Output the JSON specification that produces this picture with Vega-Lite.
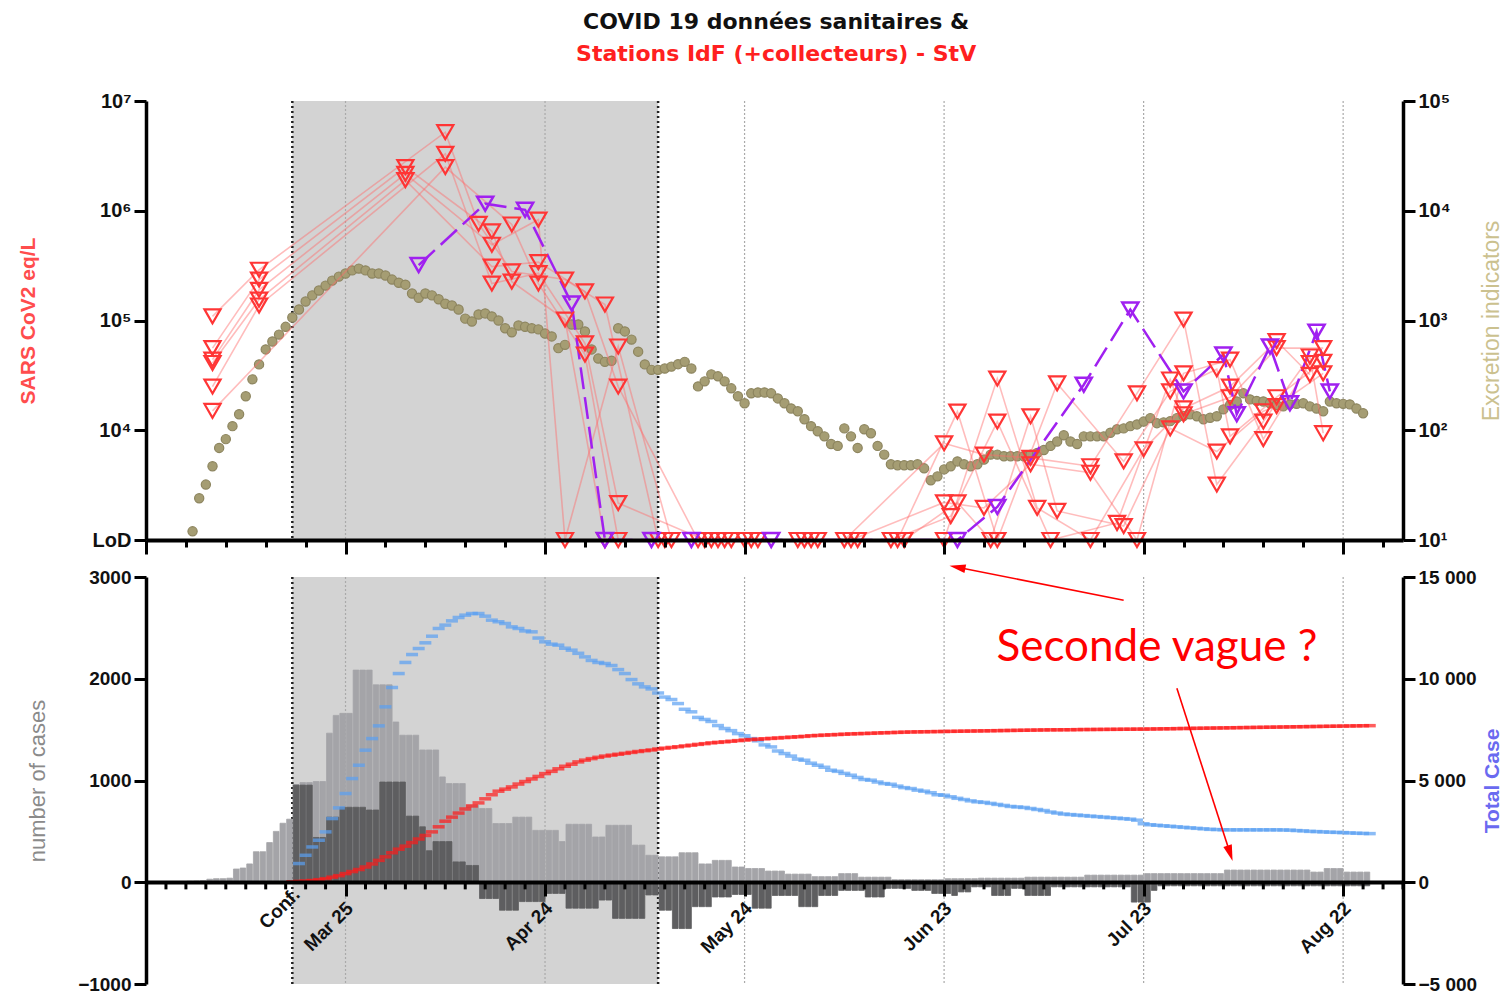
{
"$schema":"https://vega.github.io/schema/vega-lite/v6.json",
"background":"white",
"padding":{"left":17,"top":11,"right":2,"bottom":0},
"title":{"text":"COVID 19 données sanitaires &","subtitle":"Stations IdF (+collecteurs) - StV","font":"DejaVu Sans","fontSize":22,"fontWeight":"bold","color":"#111111","subtitleFont":"DejaVu Sans","subtitleFontSize":22,"subtitleFontWeight":"bold","subtitleColor":"#ff2020","subtitlePadding":10,"anchor":"middle","offset":25,"dx":16},
"datasets":{
"period":[{"start":"2020/03/17","end":"2020/05/11"}],
"grid":[{"date":"2020/03/25"},{"date":"2020/04/24"},{"date":"2020/05/24"},{"date":"2020/06/23"},{"date":"2020/07/23"},{"date":"2020/08/22"}],
"conf":[{"date":"2020/03/17"},{"date":"2020/05/11"}],
"minor":[{"date":"2020/02/27"},{"date":"2020/03/01"},{"date":"2020/03/04"},{"date":"2020/03/07"},{"date":"2020/03/10"},{"date":"2020/03/13"},{"date":"2020/03/16"},{"date":"2020/03/19"},{"date":"2020/03/22"},{"date":"2020/03/28"},{"date":"2020/03/31"},{"date":"2020/04/03"},{"date":"2020/04/06"},{"date":"2020/04/09"},{"date":"2020/04/12"},{"date":"2020/04/15"},{"date":"2020/04/18"},{"date":"2020/04/21"},{"date":"2020/04/27"},{"date":"2020/04/30"},{"date":"2020/05/03"},{"date":"2020/05/06"},{"date":"2020/05/09"},{"date":"2020/05/12"},{"date":"2020/05/15"},{"date":"2020/05/18"},{"date":"2020/05/21"},{"date":"2020/05/27"},{"date":"2020/05/30"},{"date":"2020/06/02"},{"date":"2020/06/05"},{"date":"2020/06/08"},{"date":"2020/06/11"},{"date":"2020/06/14"},{"date":"2020/06/17"},{"date":"2020/06/20"},{"date":"2020/06/26"},{"date":"2020/06/29"},{"date":"2020/07/02"},{"date":"2020/07/05"},{"date":"2020/07/08"},{"date":"2020/07/11"},{"date":"2020/07/14"},{"date":"2020/07/17"},{"date":"2020/07/20"},{"date":"2020/07/26"},{"date":"2020/07/29"},{"date":"2020/08/01"},{"date":"2020/08/04"},{"date":"2020/08/07"},{"date":"2020/08/10"},{"date":"2020/08/13"},{"date":"2020/08/16"},{"date":"2020/08/19"},{"date":"2020/08/25"},{"date":"2020/08/28"},{"date":"2020/08/31"}],
"exc":[
{"date":"2020/03/02","e":12},{"date":"2020/03/03","e":24},{"date":"2020/03/04","e":32},{"date":"2020/03/05","e":47},{"date":"2020/03/06","e":69},{"date":"2020/03/07","e":83},{"date":"2020/03/08","e":109},{"date":"2020/03/09","e":140},{"date":"2020/03/10","e":204},{"date":"2020/03/11","e":291},{"date":"2020/03/12","e":398},{"date":"2020/03/13","e":545},{"date":"2020/03/14","e":644},{"date":"2020/03/15","e":744},{"date":"2020/03/16","e":876},{"date":"2020/03/17","e":1065},{"date":"2020/03/18","e":1260},{"date":"2020/03/19","e":1489},{"date":"2020/03/20","e":1694},{"date":"2020/03/21","e":1875},{"date":"2020/03/22","e":2080},{"date":"2020/03/23","e":2310},{"date":"2020/03/24","e":2512},{"date":"2020/03/25","e":2680},{"date":"2020/03/26","e":2860},{"date":"2020/03/27","e":2970},{"date":"2020/03/28","e":2860},{"date":"2020/03/29","e":2680},{"date":"2020/03/30","e":2680},{"date":"2020/03/31","e":2570},
{"date":"2020/04/01","e":2360},{"date":"2020/04/02","e":2210},{"date":"2020/04/03","e":2120},{"date":"2020/04/04","e":1760},{"date":"2020/04/05","e":1610},{"date":"2020/04/06","e":1760},{"date":"2020/04/07","e":1694},{"date":"2020/04/08","e":1560},{"date":"2020/04/09","e":1420},{"date":"2020/04/10","e":1370},{"date":"2020/04/11","e":1260},{"date":"2020/04/12","e":1040},{"date":"2020/04/13","e":980},{"date":"2020/04/14","e":1135},{"date":"2020/04/15","e":1160},{"date":"2020/04/16","e":1090},{"date":"2020/04/17","e":1000},{"date":"2020/04/18","e":850},{"date":"2020/04/19","e":780},{"date":"2020/04/20","e":900},{"date":"2020/04/21","e":876},{"date":"2020/04/22","e":850},{"date":"2020/04/23","e":830},{"date":"2020/04/24","e":760},{"date":"2020/04/25","e":716},{"date":"2020/04/26","e":560},{"date":"2020/04/27","e":600},{"date":"2020/04/28","e":920},{"date":"2020/04/29","e":920},{"date":"2020/04/30","e":795},
{"date":"2020/05/01","e":545},{"date":"2020/05/02","e":450},{"date":"2020/05/03","e":420},{"date":"2020/05/04","e":430},{"date":"2020/05/05","e":850},{"date":"2020/05/06","e":795},{"date":"2020/05/07","e":670},{"date":"2020/05/08","e":520},{"date":"2020/05/09","e":398},{"date":"2020/05/10","e":355},{"date":"2020/05/11","e":355},{"date":"2020/05/12","e":365},{"date":"2020/05/13","e":380},{"date":"2020/05/14","e":400},{"date":"2020/05/15","e":420},{"date":"2020/05/16","e":365},{"date":"2020/05/17","e":251},{"date":"2020/05/18","e":279},{"date":"2020/05/19","e":323},{"date":"2020/05/20","e":310},{"date":"2020/05/21","e":279},{"date":"2020/05/22","e":241},{"date":"2020/05/23","e":204},{"date":"2020/05/24","e":176},{"date":"2020/05/25","e":217},{"date":"2020/05/26","e":221},{"date":"2020/05/27","e":221},{"date":"2020/05/28","e":217},{"date":"2020/05/29","e":195},{"date":"2020/05/30","e":176},{"date":"2020/05/31","e":158},
{"date":"2020/06/01","e":149},{"date":"2020/06/02","e":126},{"date":"2020/06/03","e":109},{"date":"2020/06/04","e":98},{"date":"2020/06/05","e":88},{"date":"2020/06/06","e":75},{"date":"2020/06/07","e":72},{"date":"2020/06/08","e":104},{"date":"2020/06/09","e":88},{"date":"2020/06/10","e":69},{"date":"2020/06/11","e":102},{"date":"2020/06/12","e":94},{"date":"2020/06/13","e":72},{"date":"2020/06/14","e":60},{"date":"2020/06/15","e":49},{"date":"2020/06/16","e":48},{"date":"2020/06/17","e":48},{"date":"2020/06/18","e":48},{"date":"2020/06/19","e":49},{"date":"2020/06/20","e":45},{"date":"2020/06/21","e":35},{"date":"2020/06/22","e":38},{"date":"2020/06/23","e":44},{"date":"2020/06/24","e":47},{"date":"2020/06/25","e":52},{"date":"2020/06/26","e":49},{"date":"2020/06/27","e":47},{"date":"2020/06/28","e":49},{"date":"2020/06/29","e":54},{"date":"2020/06/30","e":60},
{"date":"2020/07/01","e":60},{"date":"2020/07/02","e":58},{"date":"2020/07/03","e":58},{"date":"2020/07/04","e":58},{"date":"2020/07/05","e":58},{"date":"2020/07/06","e":60},{"date":"2020/07/07","e":62},{"date":"2020/07/08","e":66},{"date":"2020/07/09","e":72},{"date":"2020/07/10","e":79},{"date":"2020/07/11","e":90},{"date":"2020/07/12","e":79},{"date":"2020/07/13","e":75},{"date":"2020/07/14","e":88},{"date":"2020/07/15","e":88},{"date":"2020/07/16","e":88},{"date":"2020/07/17","e":88},{"date":"2020/07/18","e":95},{"date":"2020/07/19","e":102},{"date":"2020/07/20","e":104},{"date":"2020/07/21","e":109},{"date":"2020/07/22","e":113},{"date":"2020/07/23","e":120},{"date":"2020/07/24","e":129},{"date":"2020/07/25","e":116},{"date":"2020/07/26","e":118},{"date":"2020/07/27","e":121},{"date":"2020/07/28","e":129},{"date":"2020/07/29","e":135},{"date":"2020/07/30","e":140},{"date":"2020/07/31","e":134},
{"date":"2020/08/01","e":126},{"date":"2020/08/02","e":130},{"date":"2020/08/03","e":134},{"date":"2020/08/04","e":155},{"date":"2020/08/05","e":170},{"date":"2020/08/06","e":183},{"date":"2020/08/07","e":217},{"date":"2020/08/08","e":191},{"date":"2020/08/09","e":185},{"date":"2020/08/10","e":183},{"date":"2020/08/11","e":176},{"date":"2020/08/12","e":170},{"date":"2020/08/13","e":165},{"date":"2020/08/14","e":172},{"date":"2020/08/15","e":174},{"date":"2020/08/16","e":176},{"date":"2020/08/17","e":165},{"date":"2020/08/18","e":158},{"date":"2020/08/19","e":149},{"date":"2020/08/20","e":183},{"date":"2020/08/21","e":176},{"date":"2020/08/22","e":174},{"date":"2020/08/23","e":172},{"date":"2020/08/24","e":158},{"date":"2020/08/25","e":143}
],
"sars":[
{"date":"2020/03/05","v":109000,"s":"S1"},{"date":"2020/03/05","v":56000,"s":"S2"},{"date":"2020/03/05","v":44000,"s":"S3"},{"date":"2020/03/05","v":41000,"s":"S4"},{"date":"2020/03/05","v":25000,"s":"S5"},{"date":"2020/03/05","v":15000,"s":"S6"},
{"date":"2020/03/12","v":290000,"s":"S1"},{"date":"2020/03/12","v":236000,"s":"S2"},{"date":"2020/03/12","v":190000,"s":"S3"},{"date":"2020/03/12","v":155000,"s":"S4"},{"date":"2020/03/12","v":137000,"s":"S5"},
{"date":"2020/04/03","v":2500000,"s":"S2"},{"date":"2020/04/03","v":2170000,"s":"S3"},{"date":"2020/04/03","v":1900000,"s":"S4"},
{"date":"2020/04/05","v":320000,"s":"StV"},
{"date":"2020/04/09","v":5200000,"s":"S1"},{"date":"2020/04/09","v":3300000,"s":"S5"},{"date":"2020/04/09","v":2500000,"s":"S6"},
{"date":"2020/04/14","v":760000,"s":"S1"},
{"date":"2020/04/15","v":1160000,"s":"StV"},
{"date":"2020/04/16","v":650000,"s":"S2"},{"date":"2020/04/16","v":490000,"s":"S3"},{"date":"2020/04/16","v":310000,"s":"S4"},{"date":"2020/04/16","v":217000,"s":"S5"},
{"date":"2020/04/19","v":750000,"s":"S6"},{"date":"2020/04/19","v":280000,"s":"S1"},{"date":"2020/04/19","v":226000,"s":"S2"},
{"date":"2020/04/21","v":1020000,"s":"StV"},
{"date":"2020/04/23","v":830000,"s":"S3"},{"date":"2020/04/23","v":340000,"s":"S4"},{"date":"2020/04/23","v":270000,"s":"S5"},{"date":"2020/04/23","v":217000,"s":"S6"},
{"date":"2020/04/27","v":236000,"s":"S1"},{"date":"2020/04/27","v":102000,"s":"S2"},{"date":"2020/04/27","v":1000,"s":"S3"},
{"date":"2020/04/28","v":143000,"s":"StV"},
{"date":"2020/04/30","v":184000,"s":"S4"},{"date":"2020/04/30","v":62000,"s":"S5"},{"date":"2020/04/30","v":49000,"s":"S6"},
{"date":"2020/05/03","v":140000,"s":"S1"},{"date":"2020/05/03","v":1000,"s":"S2"},{"date":"2020/05/03","v":1000,"s":"StV"},
{"date":"2020/05/05","v":58000,"s":"S3"},{"date":"2020/05/05","v":25000,"s":"S4"},{"date":"2020/05/05","v":2170,"s":"S5"},{"date":"2020/05/05","v":1000,"s":"S6"},
{"date":"2020/05/10","v":1000,"s":"StV"},
{"date":"2020/05/11","v":1000,"s":"S1"},{"date":"2020/05/12","v":1000,"s":"S2"},{"date":"2020/05/13","v":1000,"s":"S3"},
{"date":"2020/05/16","v":1000,"s":"StV"},
{"date":"2020/05/17","v":1000,"s":"S4"},{"date":"2020/05/18","v":1000,"s":"S5"},{"date":"2020/05/19","v":1000,"s":"S6"},{"date":"2020/05/20","v":1000,"s":"S1"},{"date":"2020/05/21","v":1000,"s":"S2"},{"date":"2020/05/22","v":1000,"s":"S3"},
{"date":"2020/05/24","v":1000,"s":"S4"},{"date":"2020/05/25","v":1000,"s":"S5"},{"date":"2020/05/26","v":1000,"s":"S6"},
{"date":"2020/05/28","v":1000,"s":"StV"},
{"date":"2020/06/01","v":1000,"s":"S1"},{"date":"2020/06/02","v":1000,"s":"S2"},{"date":"2020/06/03","v":1000,"s":"S3"},{"date":"2020/06/04","v":1000,"s":"S4"},
{"date":"2020/06/08","v":1000,"s":"S5"},{"date":"2020/06/09","v":1000,"s":"S6"},{"date":"2020/06/10","v":1000,"s":"S1"},
{"date":"2020/06/15","v":1000,"s":"S2"},{"date":"2020/06/16","v":1000,"s":"S3"},{"date":"2020/06/17","v":1000,"s":"S4"},
{"date":"2020/06/23","v":7600,"s":"S5"},{"date":"2020/06/23","v":2200,"s":"S6"},{"date":"2020/06/23","v":1000,"s":"S1"},
{"date":"2020/06/24","v":1650,"s":"S2"},
{"date":"2020/06/25","v":14800,"s":"S3"},{"date":"2020/06/25","v":2200,"s":"S4"},{"date":"2020/06/25","v":1000,"s":"StV"},
{"date":"2020/06/29","v":6000,"s":"S5"},{"date":"2020/06/29","v":1960,"s":"S6"},
{"date":"2020/06/30","v":1000,"s":"S4"},
{"date":"2020/07/01","v":29600,"s":"S1"},{"date":"2020/07/01","v":12000,"s":"S2"},{"date":"2020/07/01","v":1000,"s":"S3"},{"date":"2020/07/01","v":2000,"s":"StV"},
{"date":"2020/07/06","v":13400,"s":"S4"},{"date":"2020/07/06","v":5600,"s":"S5"},{"date":"2020/07/06","v":4900,"s":"S6"},
{"date":"2020/07/07","v":1960,"s":"S1"},
{"date":"2020/07/09","v":1000,"s":"S2"},
{"date":"2020/07/10","v":26700,"s":"S3"},{"date":"2020/07/10","v":1840,"s":"S4"},
{"date":"2020/07/14","v":26000,"s":"StV"},
{"date":"2020/07/15","v":4700,"s":"S5"},{"date":"2020/07/15","v":4100,"s":"S6"},{"date":"2020/07/15","v":1000,"s":"S1"},
{"date":"2020/07/19","v":1430,"s":"S2"},
{"date":"2020/07/20","v":5200,"s":"S3"},{"date":"2020/07/20","v":1340,"s":"S4"},
{"date":"2020/07/21","v":126000,"s":"StV"},
{"date":"2020/07/22","v":21700,"s":"S5"},{"date":"2020/07/22","v":1000,"s":"S6"},
{"date":"2020/07/23","v":6700,"s":"S1"},
{"date":"2020/07/27","v":29000,"s":"S2"},{"date":"2020/07/27","v":22600,"s":"S3"},{"date":"2020/07/27","v":10400,"s":"S4"},
{"date":"2020/07/29","v":102000,"s":"S5"},{"date":"2020/07/29","v":33000,"s":"S6"},{"date":"2020/07/29","v":15800,"s":"S1"},{"date":"2020/07/29","v":14000,"s":"S2"},{"date":"2020/07/29","v":22600,"s":"StV"},
{"date":"2020/08/03","v":36000,"s":"S3"},{"date":"2020/08/03","v":6400,"s":"S4"},{"date":"2020/08/03","v":3200,"s":"S5"},
{"date":"2020/08/04","v":49000,"s":"StV"},
{"date":"2020/08/05","v":44000,"s":"S6"},{"date":"2020/08/05","v":25000,"s":"S1"},{"date":"2020/08/05","v":20000,"s":"S2"},{"date":"2020/08/05","v":8800,"s":"S3"},
{"date":"2020/08/06","v":14000,"s":"StV"},
{"date":"2020/08/10","v":14900,"s":"S4"},{"date":"2020/08/10","v":12000,"s":"S5"},{"date":"2020/08/10","v":8300,"s":"S6"},
{"date":"2020/08/11","v":58000,"s":"StV"},
{"date":"2020/08/12","v":65000,"s":"S1"},{"date":"2020/08/12","v":56000,"s":"S2"},{"date":"2020/08/12","v":20000,"s":"S3"},{"date":"2020/08/12","v":16600,"s":"S4"},
{"date":"2020/08/14","v":17600,"s":"StV"},
{"date":"2020/08/17","v":47000,"s":"S5"},{"date":"2020/08/17","v":41000,"s":"S6"},{"date":"2020/08/17","v":32000,"s":"S1"},
{"date":"2020/08/18","v":79000,"s":"StV"},
{"date":"2020/08/19","v":56000,"s":"S2"},{"date":"2020/08/19","v":42000,"s":"S3"},{"date":"2020/08/19","v":33000,"s":"S4"},{"date":"2020/08/19","v":9400,"s":"S5"},
{"date":"2020/08/20","v":22600,"s":"StV"}
],
"cases":[
{"date":"2020/03/01","n":10},{"date":"2020/03/02","n":12},{"date":"2020/03/03","n":15},{"date":"2020/03/04","n":30},{"date":"2020/03/05","n":35},{"date":"2020/03/06","n":35},{"date":"2020/03/07","n":40},{"date":"2020/03/08","n":130},{"date":"2020/03/09","n":140},{"date":"2020/03/10","n":180},{"date":"2020/03/11","n":300},{"date":"2020/03/12","n":300},{"date":"2020/03/13","n":390},{"date":"2020/03/14","n":500},{"date":"2020/03/15","n":580},{"date":"2020/03/16","n":620},
{"date":"2020/03/17","n":960,"h":955},{"date":"2020/03/18","n":980,"h":955},{"date":"2020/03/19","n":980,"h":955},{"date":"2020/03/20","n":990,"h":440},{"date":"2020/03/21","n":990,"h":440},{"date":"2020/03/22","n":1465,"h":640},{"date":"2020/03/23","n":1640,"h":640},{"date":"2020/03/24","n":1660,"h":737},{"date":"2020/03/25","n":1660,"h":737},{"date":"2020/03/26","n":2085,"h":737},{"date":"2020/03/27","n":2085,"h":737},{"date":"2020/03/28","n":2085,"h":710},{"date":"2020/03/29","n":1940,"h":710},{"date":"2020/03/30","n":1940,"h":985},{"date":"2020/03/31","n":1940,"h":985},
{"date":"2020/04/01","n":1575,"h":985},{"date":"2020/04/02","n":1445,"h":985},{"date":"2020/04/03","n":1445,"h":650},{"date":"2020/04/04","n":1445,"h":650},{"date":"2020/04/05","n":1300,"h":545},{"date":"2020/04/06","n":1300,"h":310},{"date":"2020/04/07","n":1300,"h":400},{"date":"2020/04/08","n":1035,"h":400},{"date":"2020/04/09","n":970,"h":400},{"date":"2020/04/10","n":970,"h":200},{"date":"2020/04/11","n":970,"h":200},{"date":"2020/04/12","n":757,"h":165},{"date":"2020/04/13","n":757,"h":165},{"date":"2020/04/14","n":725,"h":-160},{"date":"2020/04/15","n":725,"h":-160},{"date":"2020/04/16","n":577,"h":-160},{"date":"2020/04/17","n":577,"h":-275},{"date":"2020/04/18","n":577,"h":-275},{"date":"2020/04/19","n":640,"h":-275},{"date":"2020/04/20","n":640,"h":-190},{"date":"2020/04/21","n":640,"h":-190},{"date":"2020/04/22","n":510,"h":-190},{"date":"2020/04/23","n":510,"h":-190},{"date":"2020/04/24","n":510,"h":-110},{"date":"2020/04/25","n":510,"h":-110},{"date":"2020/04/26","n":400,"h":-110},{"date":"2020/04/27","n":570,"h":-255},{"date":"2020/04/28","n":570,"h":-255},{"date":"2020/04/29","n":570,"h":-255},{"date":"2020/04/30","n":570,"h":-255},
{"date":"2020/05/01","n":445,"h":-255},{"date":"2020/05/02","n":445,"h":-175},{"date":"2020/05/03","n":560,"h":-175},{"date":"2020/05/04","n":560,"h":-355},{"date":"2020/05/05","n":560,"h":-355},{"date":"2020/05/06","n":560,"h":-355},{"date":"2020/05/07","n":365,"h":-355},{"date":"2020/05/08","n":365,"h":-355},{"date":"2020/05/09","n":265,"h":-125},{"date":"2020/05/10","n":265,"h":-125},{"date":"2020/05/11","n":250,"h":-275},{"date":"2020/05/12","n":250,"h":-275},{"date":"2020/05/13","n":250,"h":-455},{"date":"2020/05/14","n":290,"h":-455},{"date":"2020/05/15","n":290,"h":-455},{"date":"2020/05/16","n":290,"h":-240},{"date":"2020/05/17","n":180,"h":-240},{"date":"2020/05/18","n":180,"h":-240},{"date":"2020/05/19","n":215,"h":-145},{"date":"2020/05/20","n":215,"h":-145},{"date":"2020/05/21","n":215,"h":-145},{"date":"2020/05/22","n":150,"h":-120},{"date":"2020/05/23","n":150,"h":-120},{"date":"2020/05/24","n":135,"h":-120},{"date":"2020/05/25","n":135,"h":-255},{"date":"2020/05/26","n":135,"h":-255},{"date":"2020/05/27","n":110,"h":-255},{"date":"2020/05/28","n":110,"h":-130},{"date":"2020/05/29","n":110,"h":-130},{"date":"2020/05/30","n":80,"h":-130},{"date":"2020/05/31","n":80,"h":-130},
{"date":"2020/06/01","n":80,"h":-240},{"date":"2020/06/02","n":80,"h":-240},{"date":"2020/06/03","n":55,"h":-240},{"date":"2020/06/04","n":55,"h":-130},{"date":"2020/06/05","n":55,"h":-130},{"date":"2020/06/06","n":55,"h":-130},{"date":"2020/06/07","n":85,"h":-80},{"date":"2020/06/08","n":85,"h":-80},{"date":"2020/06/09","n":85,"h":-80},{"date":"2020/06/10","n":50,"h":-80},{"date":"2020/06/11","n":50,"h":-145},{"date":"2020/06/12","n":50,"h":-145},{"date":"2020/06/13","n":50,"h":-145},{"date":"2020/06/14","n":50,"h":-60},{"date":"2020/06/15","n":25,"h":-60},{"date":"2020/06/16","n":25,"h":-60},{"date":"2020/06/17","n":25,"h":-60},{"date":"2020/06/18","n":25,"h":-80},{"date":"2020/06/19","n":25,"h":-80},{"date":"2020/06/20","n":25,"h":-80},{"date":"2020/06/21","n":25,"h":-110},{"date":"2020/06/22","n":25,"h":-110},{"date":"2020/06/23","n":35,"h":-110},{"date":"2020/06/24","n":35,"h":-130},{"date":"2020/06/25","n":35,"h":-95},{"date":"2020/06/26","n":35,"h":-95},{"date":"2020/06/27","n":35,"h":-45},{"date":"2020/06/28","n":40,"h":-45},{"date":"2020/06/29","n":40,"h":-45},{"date":"2020/06/30","n":40,"h":-130},
{"date":"2020/07/01","n":40,"h":-130},{"date":"2020/07/02","n":40,"h":-130},{"date":"2020/07/03","n":40,"h":-60},{"date":"2020/07/04","n":40,"h":-60},{"date":"2020/07/05","n":50,"h":-130},{"date":"2020/07/06","n":50,"h":-130},{"date":"2020/07/07","n":50,"h":-130},{"date":"2020/07/08","n":50,"h":-130},{"date":"2020/07/09","n":50,"h":-45},{"date":"2020/07/10","n":50,"h":-45},{"date":"2020/07/11","n":50,"h":-45},{"date":"2020/07/12","n":50,"h":-45},{"date":"2020/07/13","n":50,"h":-45},{"date":"2020/07/14","n":70,"h":-45},{"date":"2020/07/15","n":70,"h":-45},{"date":"2020/07/16","n":70,"h":-45},{"date":"2020/07/17","n":70,"h":-45},{"date":"2020/07/18","n":70,"h":-45},{"date":"2020/07/19","n":70,"h":-45},{"date":"2020/07/20","n":70,"h":-45},{"date":"2020/07/21","n":70,"h":-195},{"date":"2020/07/22","n":70,"h":-195},{"date":"2020/07/23","n":85,"h":-195},{"date":"2020/07/24","n":85,"h":-80},{"date":"2020/07/25","n":85,"h":-35},{"date":"2020/07/26","n":85,"h":-35},{"date":"2020/07/27","n":85,"h":-35},{"date":"2020/07/28","n":85,"h":-35},{"date":"2020/07/29","n":85,"h":-35},{"date":"2020/07/30","n":85,"h":-35},{"date":"2020/07/31","n":85,"h":-35},
{"date":"2020/08/01","n":85,"h":-35},{"date":"2020/08/02","n":85,"h":-35},{"date":"2020/08/03","n":85,"h":-35},{"date":"2020/08/04","n":120,"h":-35},{"date":"2020/08/05","n":120,"h":-35},{"date":"2020/08/06","n":120,"h":-35},{"date":"2020/08/07","n":120,"h":-35},{"date":"2020/08/08","n":120,"h":-35},{"date":"2020/08/09","n":120,"h":-35},{"date":"2020/08/10","n":120,"h":-35},{"date":"2020/08/11","n":120,"h":-35},{"date":"2020/08/12","n":120,"h":-35},{"date":"2020/08/13","n":120,"h":-35},{"date":"2020/08/14","n":120,"h":-35},{"date":"2020/08/15","n":120,"h":-35},{"date":"2020/08/16","n":120,"h":-35},{"date":"2020/08/17","n":100,"h":-35},{"date":"2020/08/18","n":100,"h":-35},{"date":"2020/08/19","n":135,"h":-35},{"date":"2020/08/20","n":135,"h":-35},{"date":"2020/08/21","n":135,"h":-35},{"date":"2020/08/22","n":100,"h":-35},{"date":"2020/08/23","n":100,"h":-35},{"date":"2020/08/24","n":100,"h":-35},{"date":"2020/08/25","n":100,"h":-35}
],
"hosp":[
{"date":"2020/03/17","c":25},{"date":"2020/03/18","t":920,"c":40},{"date":"2020/03/19","t":1325,"c":60},{"date":"2020/03/20","t":1735,"c":85},{"date":"2020/03/21","t":2065,"c":125},{"date":"2020/03/22","t":2475,"c":175},{"date":"2020/03/23","t":3130,"c":250},{"date":"2020/03/24","t":3655,"c":325},{"date":"2020/03/25","t":4360,"c":425},{"date":"2020/03/26","t":5095,"c":525},{"date":"2020/03/27","t":5750,"c":625},{"date":"2020/03/28","t":6490,"c":750},{"date":"2020/03/29","t":7060,"c":900},{"date":"2020/03/30","t":7685,"c":1075},{"date":"2020/03/31","t":8620,"c":1250},
{"date":"2020/04/01","t":9570,"c":1450},{"date":"2020/04/02","t":10255,"c":1625},{"date":"2020/04/03","t":10800,"c":1775},{"date":"2020/04/04","t":11190,"c":1950},{"date":"2020/04/05","t":11485,"c":2125},{"date":"2020/04/06","t":11765,"c":2300},{"date":"2020/04/07","t":12090,"c":2475},{"date":"2020/04/08","t":12470,"c":2725},{"date":"2020/04/09","t":12635,"c":3000},{"date":"2020/04/10","t":12845,"c":3200},{"date":"2020/04/11","t":13010,"c":3400},{"date":"2020/04/12","t":13125,"c":3600},{"date":"2020/04/13","t":13205,"c":3750},{"date":"2020/04/14","t":13205,"c":3900},{"date":"2020/04/15","t":13075,"c":4100},{"date":"2020/04/16","t":12880,"c":4300},{"date":"2020/04/17","t":12800,"c":4475},{"date":"2020/04/18","t":12715,"c":4575},{"date":"2020/04/19","t":12550,"c":4685},{"date":"2020/04/20","t":12470,"c":4825},{"date":"2020/04/21","t":12350,"c":4950},{"date":"2020/04/22","t":12305,"c":5075},{"date":"2020/04/23","t":12000,"c":5200},{"date":"2020/04/24","t":11815,"c":5340},{"date":"2020/04/25","t":11700,"c":5450},{"date":"2020/04/26","t":11650,"c":5575},{"date":"2020/04/27","t":11500,"c":5700},{"date":"2020/04/28","t":11405,"c":5800},{"date":"2020/04/29","t":11250,"c":5915},{"date":"2020/04/30","t":11075,"c":6000},
{"date":"2020/05/01","t":10900,"c":6075},{"date":"2020/05/02","t":10800,"c":6140},{"date":"2020/05/03","t":10750,"c":6200},{"date":"2020/05/04","t":10650,"c":6245},{"date":"2020/05/05","t":10450,"c":6290},{"date":"2020/05/06","t":10255,"c":6335},{"date":"2020/05/07","t":9960,"c":6380},{"date":"2020/05/08","t":9750,"c":6425},{"date":"2020/05/09","t":9600,"c":6465},{"date":"2020/05/10","t":9500,"c":6500},{"date":"2020/05/11","t":9305,"c":6550},{"date":"2020/05/12","t":9100,"c":6590},{"date":"2020/05/13","t":8980,"c":6625},{"date":"2020/05/14","t":8780,"c":6660},{"date":"2020/05/15","t":8500,"c":6700},{"date":"2020/05/16","t":8375,"c":6735},{"date":"2020/05/17","t":8100,"c":6775},{"date":"2020/05/18","t":8000,"c":6810},{"date":"2020/05/19","t":7900,"c":6850},{"date":"2020/05/20","t":7700,"c":6875},{"date":"2020/05/21","t":7555,"c":6900},{"date":"2020/05/22","t":7450,"c":6930},{"date":"2020/05/23","t":7305,"c":6960},{"date":"2020/05/24","t":7200,"c":6990},{"date":"2020/05/25","t":7060,"c":7010},{"date":"2020/05/26","t":6950,"c":7030},{"date":"2020/05/27","t":6750,"c":7050},{"date":"2020/05/28","t":6650,"c":7070},{"date":"2020/05/29","t":6450,"c":7090},{"date":"2020/05/30","t":6325,"c":7110},{"date":"2020/05/31","t":6200,"c":7130},
{"date":"2020/06/01","t":6050,"c":7150},{"date":"2020/06/02","t":5995,"c":7170},{"date":"2020/06/03","t":5850,"c":7200},{"date":"2020/06/04","t":5750,"c":7215},{"date":"2020/06/05","t":5650,"c":7230},{"date":"2020/06/06","t":5505,"c":7245},{"date":"2020/06/07","t":5450,"c":7260},{"date":"2020/06/08","t":5350,"c":7275},{"date":"2020/06/09","t":5260,"c":7290},{"date":"2020/06/10","t":5150,"c":7300},{"date":"2020/06/11","t":5050,"c":7310},{"date":"2020/06/12","t":5015,"c":7320},{"date":"2020/06/13","t":4925,"c":7335},{"date":"2020/06/14","t":4850,"c":7345},{"date":"2020/06/15","t":4815,"c":7355},{"date":"2020/06/16","t":4725,"c":7365},{"date":"2020/06/17","t":4650,"c":7375},{"date":"2020/06/18","t":4605,"c":7385},{"date":"2020/06/19","t":4525,"c":7390},{"date":"2020/06/20","t":4475,"c":7395},{"date":"2020/06/21","t":4400,"c":7400},{"date":"2020/06/22","t":4300,"c":7405},{"date":"2020/06/23","t":4275,"c":7410},{"date":"2020/06/24","t":4200,"c":7415},{"date":"2020/06/25","t":4125,"c":7420},{"date":"2020/06/26","t":4065,"c":7425},{"date":"2020/06/27","t":4000,"c":7430},{"date":"2020/06/28","t":3950,"c":7435},{"date":"2020/06/29","t":3925,"c":7440},{"date":"2020/06/30","t":3875,"c":7445},
{"date":"2020/07/01","t":3825,"c":7450},{"date":"2020/07/02","t":3775,"c":7455},{"date":"2020/07/03","t":3725,"c":7460},{"date":"2020/07/04","t":3700,"c":7465},{"date":"2020/07/05","t":3675,"c":7470},{"date":"2020/07/06","t":3625,"c":7475},{"date":"2020/07/07","t":3575,"c":7480},{"date":"2020/07/08","t":3525,"c":7485},{"date":"2020/07/09","t":3450,"c":7490},{"date":"2020/07/10","t":3400,"c":7490},{"date":"2020/07/11","t":3350,"c":7495},{"date":"2020/07/12","t":3325,"c":7495},{"date":"2020/07/13","t":3300,"c":7500},{"date":"2020/07/14","t":3275,"c":7505},{"date":"2020/07/15","t":3250,"c":7505},{"date":"2020/07/16","t":3225,"c":7510},{"date":"2020/07/17","t":3200,"c":7510},{"date":"2020/07/18","t":3175,"c":7515},{"date":"2020/07/19","t":3150,"c":7515},{"date":"2020/07/20","t":3125,"c":7520},{"date":"2020/07/21","t":3100,"c":7520},{"date":"2020/07/22","t":3050,"c":7525},{"date":"2020/07/23","t":2875,"c":7525},{"date":"2020/07/24","t":2825,"c":7530},{"date":"2020/07/25","t":2800,"c":7535},{"date":"2020/07/26","t":2775,"c":7540},{"date":"2020/07/27","t":2750,"c":7545},{"date":"2020/07/28","t":2725,"c":7550},{"date":"2020/07/29","t":2700,"c":7555},{"date":"2020/07/30","t":2675,"c":7560},{"date":"2020/07/31","t":2650,"c":7565},
{"date":"2020/08/01","t":2625,"c":7570},{"date":"2020/08/02","t":2600,"c":7575},{"date":"2020/08/03","t":2590,"c":7580},{"date":"2020/08/04","t":2580,"c":7585},{"date":"2020/08/05","t":2575,"c":7590},{"date":"2020/08/06","t":2575,"c":7595},{"date":"2020/08/07","t":2575,"c":7600},{"date":"2020/08/08","t":2575,"c":7605},{"date":"2020/08/09","t":2575,"c":7610},{"date":"2020/08/10","t":2575,"c":7615},{"date":"2020/08/11","t":2575,"c":7620},{"date":"2020/08/12","t":2575,"c":7625},{"date":"2020/08/13","t":2570,"c":7630},{"date":"2020/08/14","t":2560,"c":7635},{"date":"2020/08/15","t":2540,"c":7640},{"date":"2020/08/16","t":2525,"c":7645},{"date":"2020/08/17","t":2500,"c":7650},{"date":"2020/08/18","t":2490,"c":7655},{"date":"2020/08/19","t":2475,"c":7660},{"date":"2020/08/20","t":2460,"c":7665},{"date":"2020/08/21","t":2450,"c":7670},{"date":"2020/08/22","t":2440,"c":7675},{"date":"2020/08/23","t":2425,"c":7680},{"date":"2020/08/24","t":2410,"c":7685},{"date":"2020/08/25","t":2400,"c":7690},{"date":"2020/08/26","t":2390,"c":7695}
],
"arrows":[{"a":1,"date":"2020/07/20","v":2772},{"a":1,"date":"2020/06/25","v":3096},{"a":2,"date":"2020/07/28","v":1907},{"a":2,"date":"2020/08/05","v":285}],
"heads":[{"a":1,"date":"2020/06/25","v":3096},{"a":2,"date":"2020/08/05","v":285}],
"note":[{"label":"Seconde vague ?","date":"2020/07/25","v":2170}]
},
"spacing":8,
"vconcat":[
{
"width":1257,"height":439,
"layer":[
{"data":{"name":"period"},"mark":{"type":"rect","color":"#d3d3d3"},
 "encoding":{"x":{"field":"start","type":"temporal","scale":{"domain":[{"year":2020,"month":2,"date":24},{"year":2020,"month":8,"date":31}]},
  "axis":{"title":null,"grid":false,"labels":false,"domainWidth":4,"tickWidth":3,"zindex":2,
   "tickSize":{"condition":{"test":"indexof(['02-24','03-25','04-24','05-24','06-23','07-23','08-22'], timeFormat(datum.value, '%m-%d')) >= 0","value":14},"value":7},
   "values":[{"year":2020,"month":2,"date":24},{"year":2020,"month":2,"date":27},{"year":2020,"month":3,"date":1},{"year":2020,"month":3,"date":4},{"year":2020,"month":3,"date":7},{"year":2020,"month":3,"date":10},{"year":2020,"month":3,"date":13},{"year":2020,"month":3,"date":16},{"year":2020,"month":3,"date":19},{"year":2020,"month":3,"date":22},{"year":2020,"month":3,"date":25},{"year":2020,"month":3,"date":28},{"year":2020,"month":3,"date":31},{"year":2020,"month":4,"date":3},{"year":2020,"month":4,"date":6},{"year":2020,"month":4,"date":9},{"year":2020,"month":4,"date":12},{"year":2020,"month":4,"date":15},{"year":2020,"month":4,"date":18},{"year":2020,"month":4,"date":21},{"year":2020,"month":4,"date":24},{"year":2020,"month":4,"date":27},{"year":2020,"month":4,"date":30},{"year":2020,"month":5,"date":3},{"year":2020,"month":5,"date":6},{"year":2020,"month":5,"date":9},{"year":2020,"month":5,"date":12},{"year":2020,"month":5,"date":15},{"year":2020,"month":5,"date":18},{"year":2020,"month":5,"date":21},{"year":2020,"month":5,"date":24},{"year":2020,"month":5,"date":27},{"year":2020,"month":5,"date":30},{"year":2020,"month":6,"date":2},{"year":2020,"month":6,"date":5},{"year":2020,"month":6,"date":8},{"year":2020,"month":6,"date":11},{"year":2020,"month":6,"date":14},{"year":2020,"month":6,"date":17},{"year":2020,"month":6,"date":20},{"year":2020,"month":6,"date":23},{"year":2020,"month":6,"date":26},{"year":2020,"month":6,"date":29},{"year":2020,"month":7,"date":2},{"year":2020,"month":7,"date":5},{"year":2020,"month":7,"date":8},{"year":2020,"month":7,"date":11},{"year":2020,"month":7,"date":14},{"year":2020,"month":7,"date":17},{"year":2020,"month":7,"date":20},{"year":2020,"month":7,"date":23},{"year":2020,"month":7,"date":26},{"year":2020,"month":7,"date":29},{"year":2020,"month":8,"date":1},{"year":2020,"month":8,"date":4},{"year":2020,"month":8,"date":7},{"year":2020,"month":8,"date":10},{"year":2020,"month":8,"date":13},{"year":2020,"month":8,"date":16},{"year":2020,"month":8,"date":19},{"year":2020,"month":8,"date":22},{"year":2020,"month":8,"date":25},{"year":2020,"month":8,"date":28},{"year":2020,"month":8,"date":31}]}},
 "x2":{"field":"end"}}},
{"data":{"name":"grid"},"mark":{"type":"rule","color":"#aaaaaa","strokeDash":[2,2],"strokeWidth":1.2},"encoding":{"x":{"field":"date","type":"temporal"}}},
{"data":{"name":"conf"},"mark":{"type":"rule","color":"#222222","strokeDash":[2,3],"strokeWidth":2.5},"encoding":{"x":{"field":"date","type":"temporal"}}},
{"data":{"name":"exc"},"mark":{"type":"point","filled":true,"size":85,"fill":"#a59d73","stroke":"#8d855f","strokeWidth":1.2,"opacity":1},
 "encoding":{"x":{"field":"date","type":"temporal"},
  "y":{"field":"e","type":"quantitative","scale":{"type":"log","domain":[10,100000],"nice":false},
   "axis":{"orient":"right","values":[10,100,1000,10000,100000],"labelExpr":"datum.value < 20 ? '10¹' : datum.value < 200 ? '10²' : datum.value < 2000 ? '10³' : datum.value < 20000 ? '10⁴' : '10⁵'","title":"Excretion indicators","titleColor":"#cbc18f","titleFontWeight":"normal","titleFontSize":23,"titleAngle":270,"titleBaseline":"top","titlePadding":30,"tickSize":12,"labelFontSize":20,"labelPadding":3,"zindex":2}}}},
{"data":{"name":"sars"},"layer":[
 {"transform":[{"filter":"datum.s != 'StV'"}],"mark":{"type":"line","color":"#ff6a6a","opacity":0.45,"strokeWidth":1.6},
  "encoding":{"x":{"field":"date","type":"temporal"},
   "y":{"field":"v","type":"quantitative","scale":{"type":"log","domain":[1000,10000000],"nice":false},
    "axis":{"orient":"left","values":[1000,10000,100000,1000000,10000000],"labelExpr":"datum.value < 2000 ? 'LoD' : datum.value < 20000 ? '10⁴' : datum.value < 200000 ? '10⁵' : datum.value < 2000000 ? '10⁶' : '10⁷'","title":"SARS CoV2  eq/L","titleColor":"#ff4d4d","titleFontWeight":"bold","titleFontSize":21,"titlePadding":54,"tickSize":12,"labelFontSize":20,"labelPadding":3,"zindex":2}},
   "detail":{"field":"s"}}},
 {"transform":[{"filter":"datum.s == 'StV'"}],"mark":{"type":"line","color":"#a020f0","strokeWidth":2.5,"strokeDash":[22,8]},
  "encoding":{"x":{"field":"date","type":"temporal"},"y":{"field":"v","type":"quantitative"}}},
 {"transform":[{"filter":"datum.s != 'StV'"}],"mark":{"type":"point","shape":"triangle-down","size":260,"filled":false,"stroke":"#ff3535","strokeWidth":2.2,"opacity":1},
  "encoding":{"x":{"field":"date","type":"temporal"},"y":{"field":"v","type":"quantitative"}}},
 {"transform":[{"filter":"datum.s == 'StV'"}],"mark":{"type":"point","shape":"triangle-down","size":260,"filled":false,"stroke":"#a020f0","strokeWidth":2.5,"opacity":1},
  "encoding":{"x":{"field":"date","type":"temporal"},"y":{"field":"v","type":"quantitative"}}}
]}
],
"resolve":{"scale":{"y":"independent"}}
},
{
"width":1257,"height":407,
"layer":[
{"data":{"name":"period"},"mark":{"type":"rect","color":"#d3d3d3"},
 "encoding":{"x":{"field":"start","type":"temporal","scale":{"domain":[{"year":2020,"month":2,"date":24},{"year":2020,"month":8,"date":31}]},
  "axis":{"title":null,"grid":false,"offset":-102,"domainWidth":4,"tickWidth":3,"zindex":2,
   "tickSize":{"condition":{"test":"timeFormat(datum.value, '%m-%d') == '03-17'","value":0},"value":14},
   "labelExpr":"timeFormat(datum.value, '%m-%d') == '03-17' ? 'Conf.' : timeFormat(datum.value, '%b %d')",
   "labelAngle":-45,"labelAlign":"right","labelBaseline":"middle","labelPadding":9,"labelOffset":4,"labelFontSize":19,"labelOverlap":false,"labelFlush":false,"labelBound":false,
   "values":[{"year":2020,"month":3,"date":17},{"year":2020,"month":3,"date":25},{"year":2020,"month":4,"date":24},{"year":2020,"month":5,"date":24},{"year":2020,"month":6,"date":23},{"year":2020,"month":7,"date":23},{"year":2020,"month":8,"date":22}]}},
 "x2":{"field":"end"}}},
{"data":{"name":"grid"},"mark":{"type":"rule","color":"#aaaaaa","strokeDash":[2,2],"strokeWidth":1.2},"encoding":{"x":{"field":"date","type":"temporal"}}},
{"data":{"name":"conf"},"mark":{"type":"rule","color":"#222222","strokeDash":[2,3],"strokeWidth":2.5},"encoding":{"x":{"field":"date","type":"temporal"}}},
{"data":{"name":"cases"},"layer":[
 {"mark":{"type":"bar","color":"#a4a4a8","stroke":"#a4a4a8","strokeWidth":0.8},
  "encoding":{"x":{"field":"date","type":"temporal","timeUnit":"yearmonthdate"},
   "y":{"field":"n","type":"quantitative","scale":{"domain":[-1000,3000],"nice":false},
    "axis":{"orient":"left","values":[-1000,0,1000,2000,3000],"format":"d","title":"number of cases","titleColor":"#8a8a8a","titleFontWeight":"normal","titleFontSize":22,"titlePadding":28,"tickSize":12,"labelFontSize":19,"labelPadding":3,"zindex":2}}}},
 {"mark":{"type":"bar","color":"#5e5e60","stroke":"#5e5e60","strokeWidth":0.8},
  "encoding":{"x":{"field":"date","type":"temporal","timeUnit":"yearmonthdate"},"y":{"field":"h","type":"quantitative"}}}
]},
{"data":{"name":"hosp"},"layer":[
 {"mark":{"type":"tick","orient":"horizontal","color":"#5aa0f2","size":12,"thickness":3.5},
  "encoding":{"x":{"field":"date","type":"temporal"},
   "y":{"field":"t","type":"quantitative","scale":{"domain":[-5000,15000],"nice":false},
    "axis":{"orient":"right","values":[-5000,0,5000,10000,15000],"labelExpr":"replace(format(datum.value, ','), ',', ' ')","title":"Total Case","titleColor":"#6a6af0","titleFontWeight":"bold","titleFontSize":21,"titleAngle":270,"titleBaseline":"top","titlePadding":5,"tickSize":12,"labelFontSize":19,"labelPadding":3,"zindex":2}}}},
 {"mark":{"type":"tick","orient":"horizontal","color":"#ff1a1a","size":12,"thickness":3.5},
  "encoding":{"x":{"field":"date","type":"temporal"},"y":{"field":"c","type":"quantitative"}}}
]},
{"layer":[
 {"data":{"name":"minor"},"mark":{"type":"rule","color":"#000000","strokeWidth":3},
  "encoding":{"x":{"field":"date","type":"temporal"},"y":{"datum":0,"type":"quantitative","scale":{"domain":[-1000,3000],"nice":false},"axis":null},"y2":{"datum":-70}}},
 {"data":{"name":"arrows"},"mark":{"type":"line","color":"#ff0000","strokeWidth":1.6},
  "encoding":{"x":{"field":"date","type":"temporal"},"y":{"field":"v","type":"quantitative"},"detail":{"field":"a"}}},
 {"data":{"name":"heads"},"transform":[{"filter":"datum.a == 1"}],"mark":{"type":"point","shape":"M-0.55,-1L0.55,-1L0,1Z","filled":true,"color":"#ff0000","size":260,"angle":101,"opacity":1},
  "encoding":{"x":{"field":"date","type":"temporal"},"y":{"field":"v","type":"quantitative"}}},
 {"data":{"name":"heads"},"transform":[{"filter":"datum.a == 2"}],"mark":{"type":"point","shape":"M-0.55,-1L0.55,-1L0,1Z","filled":true,"color":"#ff0000","size":260,"angle":342,"opacity":1},
  "encoding":{"x":{"field":"date","type":"temporal"},"y":{"field":"v","type":"quantitative"}}},
 {"data":{"name":"note"},"mark":{"type":"text","color":"#ff0000","font":"Lato","fontSize":44,"align":"center","baseline":"alphabetic"},
  "encoding":{"x":{"field":"date","type":"temporal"},"y":{"field":"v","type":"quantitative"},"text":{"field":"label"}}}
]}
],
"resolve":{"scale":{"y":"independent"}}
}
],
"config":{
 "view":{"stroke":null},
 "axis":{"domainColor":"#000000","domainWidth":3.5,"tickColor":"#000000","tickWidth":3,"labelColor":"#111111","labelFont":"Liberation Sans","labelFontWeight":"bold","labelFontSize":17,"titleFont":"Liberation Sans","titleFontSize":19,"grid":false}
}
}
